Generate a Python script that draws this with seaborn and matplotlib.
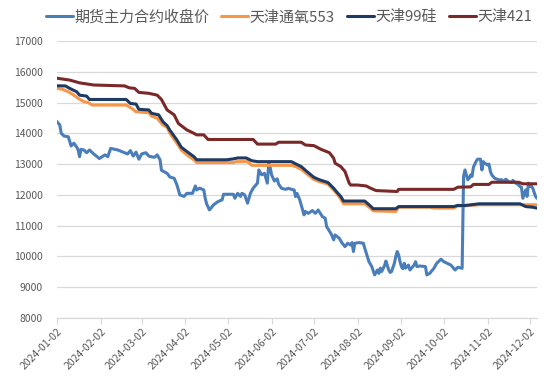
import pandas as pd
import matplotlib
matplotlib.use("Agg")
import matplotlib.pyplot as plt
import seaborn as sns

# ---- data ----
fut_dates = ["2024-01-02", "2024-01-04", "2024-01-05", "2024-01-07", "2024-01-10", "2024-01-12",
             "2024-01-14", "2024-01-16", "2024-01-17", "2024-01-18", "2024-01-19", "2024-01-21",
             "2024-01-23", "2024-01-25", "2024-01-28", "2024-02-01", "2024-02-03", "2024-02-05",
             "2024-02-07", "2024-02-09", "2024-02-14", "2024-02-21", "2024-02-23", "2024-02-25",
             "2024-02-27", "2024-02-29", "2024-03-02", "2024-03-05", "2024-03-07", "2024-03-11",
             "2024-03-13", "2024-03-15", "2024-03-16", "2024-03-18", "2024-03-20", "2024-03-22",
             "2024-03-25", "2024-03-27", "2024-03-29", "2024-04-01", "2024-04-03", "2024-04-07",
             "2024-04-09", "2024-04-10", "2024-04-12", "2024-04-15", "2024-04-16", "2024-04-17",
             "2024-04-19", "2024-04-22", "2024-04-25", "2024-04-28", "2024-04-29", "2024-05-06",
             "2024-05-07", "2024-05-09", "2024-05-11", "2024-05-12", "2024-05-14", "2024-05-16",
             "2024-05-18", "2024-05-20", "2024-05-23", "2024-05-24", "2024-05-26", "2024-05-28",
             "2024-05-30", "2024-05-31", "2024-06-01", "2024-06-02", "2024-06-04", "2024-06-06",
             "2024-06-07", "2024-06-09", "2024-06-12", "2024-06-14", "2024-06-16", "2024-06-18",
             "2024-06-19", "2024-06-20", "2024-06-22", "2024-06-25", "2024-06-26", "2024-06-28",
             "2024-07-01", "2024-07-03", "2024-07-05", "2024-07-08", "2024-07-10", "2024-07-11",
             "2024-07-14", "2024-07-16", "2024-07-17", "2024-07-20", "2024-07-22", "2024-07-24",
             "2024-07-26", "2024-07-28", "2024-07-29", "2024-07-30", "2024-07-31", "2024-08-03",
             "2024-08-06", "2024-08-07", "2024-08-10", "2024-08-12", "2024-08-14", "2024-08-16",
             "2024-08-17", "2024-08-18", "2024-08-19", "2024-08-21", "2024-08-22", "2024-08-24",
             "2024-08-25", "2024-08-26", "2024-08-28", "2024-08-29", "2024-08-30", "2024-08-31",
             "2024-09-01", "2024-09-02", "2024-09-03", "2024-09-04", "2024-09-05", "2024-09-07",
             "2024-09-08", "2024-09-11", "2024-09-12", "2024-09-13", "2024-09-15", "2024-09-19",
             "2024-09-20", "2024-09-22", "2024-09-25", "2024-09-27", "2024-09-30", "2024-10-02",
             "2024-10-07", "2024-10-09", "2024-10-10", "2024-10-12", "2024-10-15", "2024-10-16",
             "2024-10-17", "2024-10-18", "2024-10-19", "2024-10-20", "2024-10-21", "2024-10-22",
             "2024-10-23", "2024-10-24", "2024-10-25", "2024-10-26", "2024-10-28", "2024-10-29",
             "2024-10-30", "2024-10-31", "2024-11-02", "2024-11-03", "2024-11-04", "2024-11-05",
             "2024-11-07", "2024-11-10", "2024-11-12", "2024-11-13", "2024-11-15", "2024-11-17",
             "2024-11-19", "2024-11-20", "2024-11-22", "2024-11-23", "2024-11-24", "2024-11-25",
             "2024-11-26", "2024-11-27", "2024-11-29", "2024-11-30", "2024-12-01", "2024-12-02",
             "2024-12-03", "2024-12-04", "2024-12-06", "2024-12-07"]
fut_vals = [14380, 14270, 14000, 13910, 13890, 13590,
            13680, 13550, 13460, 13240, 13480, 13460,
            13370, 13460, 13330, 13180, 13240, 13300,
            13240, 13510, 13460, 13330, 13440, 13260,
            13390, 13160, 13330, 13370, 13260, 13220,
            13300, 13140, 12800, 12750, 12700, 12580,
            12540, 12320, 12000, 11950, 12050, 12050,
            12290, 12160, 12220, 12160, 11890, 11710,
            11510, 11680, 11780, 11840, 12020, 12020,
            11890, 12050, 11950, 12050, 12000, 11730,
            12050, 12220, 12380, 12810, 12650, 12700,
            12380, 13030, 12900, 12650, 12450, 12520,
            12350, 12215, 12180, 12215, 12180, 12160,
            11945, 12050, 11835, 11350, 11460, 11400,
            11490, 11400, 11510, 11295, 11240, 10970,
            10750, 10540, 10700, 10590, 10430, 10320,
            10430, 10370, 10450, 10160, 10430, 10450,
            10430, 10270, 9830, 9670, 9400, 9560,
            9450, 9620, 9510, 9700, 9850, 9560,
            9480, 9510, 9780, 10000, 10160, 10050,
            9830, 9670, 9600, 9780, 9620, 9720,
            9560, 9720, 9830, 9670, 9690, 9670,
            9400, 9450, 9615, 9780, 9910, 9830,
            9720, 9615, 9560, 9650, 9615, 12600,
            12810, 12650, 12490, 12540, 12650, 12600,
            12900, 13000, 13100, 13160, 13160, 12810,
            13080, 13030, 12970, 13000, 12760, 12650,
            12540, 12490, 12490, 12430, 12510, 12430,
            12400, 12470, 12380, 12360, 12320, 12270,
            12250, 11890, 12160, 11950, 12380, 12270,
            12290, 12220, 11950, 11890]

o553_dates = ["2024-01-02", "2024-01-06", "2024-01-10", "2024-01-14", "2024-01-17", "2024-01-21",
              "2024-01-24", "2024-01-27", "2024-02-20", "2024-02-24", "2024-02-27", "2024-03-07",
              "2024-03-09", "2024-03-13", "2024-03-17", "2024-03-20", "2024-03-22", "2024-03-27",
              "2024-03-30", "2024-04-03", "2024-04-08", "2024-04-10", "2024-05-06", "2024-05-08",
              "2024-05-16", "2024-05-19", "2024-06-16", "2024-06-19", "2024-06-23", "2024-06-27",
              "2024-07-02", "2024-07-06", "2024-07-12", "2024-07-16", "2024-07-19", "2024-07-21",
              "2024-07-23", "2024-08-07", "2024-08-11", "2024-08-13", "2024-08-29", "2024-08-31",
              "2024-09-22", "2024-09-25", "2024-10-09", "2024-10-12", "2024-10-16", "2024-10-27",
              "2024-12-07"]
o553_vals = [15460, 15430, 15350, 15240, 15135, 15030,
             15000, 14920, 14920, 14810, 14700, 14670,
             14560, 14490, 14270, 14200, 14000, 13675,
             13460, 13300, 13140, 13050, 13050, 13080,
             13080, 12960, 12960, 12920, 12830, 12680,
             12500, 12430, 12350, 12160, 12000, 11860,
             11710, 11710, 11570, 11480, 11460, 11600,
             11600, 11570, 11570, 11640, 11640, 11680,
             11680]

si99_dates = ["2024-01-02", "2024-01-08", "2024-01-11", "2024-01-16", "2024-01-18", "2024-01-23",
              "2024-01-25", "2024-02-20", "2024-02-23", "2024-02-27", "2024-02-29", "2024-03-07",
              "2024-03-09", "2024-03-14", "2024-03-17", "2024-03-20", "2024-03-22", "2024-03-27",
              "2024-03-30", "2024-04-03", "2024-04-08", "2024-04-10", "2024-05-01", "2024-05-06",
              "2024-05-09", "2024-05-15", "2024-05-19", "2024-05-23", "2024-06-16", "2024-06-19",
              "2024-06-23", "2024-06-27", "2024-07-02", "2024-07-06", "2024-07-12", "2024-07-16",
              "2024-07-19", "2024-07-21", "2024-07-23", "2024-08-07", "2024-08-11", "2024-08-13",
              "2024-08-29", "2024-08-31", "2024-10-09", "2024-10-12", "2024-10-16", "2024-10-27",
              "2024-11-25", "2024-11-29", "2024-12-04", "2024-12-07"]
si99_vals = [15545, 15540, 15460, 15350, 15240, 15210,
             15100, 15100, 14970, 14950, 14780, 14760,
             14650, 14600, 14380, 14250, 14100, 13780,
             13550, 13410, 13240, 13140, 13140, 13170,
             13200, 13200, 13110, 13080, 13080, 13010,
             12920, 12760, 12570, 12490, 12400, 12215,
             12050, 11950, 11800, 11800, 11640, 11550,
             11550, 11620, 11620, 11660, 11650, 11710,
             11710, 11620, 11600, 11570]

si421_dates = ["2024-01-02", "2024-01-11", "2024-01-18", "2024-01-28", "2024-02-19", "2024-02-22",
               "2024-02-26", "2024-02-29", "2024-03-07", "2024-03-13", "2024-03-16", "2024-03-20",
               "2024-03-25", "2024-03-28", "2024-04-03", "2024-04-08", "2024-04-10", "2024-04-15",
               "2024-04-18", "2024-05-20", "2024-05-23", "2024-06-05", "2024-06-07", "2024-06-23",
               "2024-06-26", "2024-07-02", "2024-07-07", "2024-07-13", "2024-07-16", "2024-07-17",
               "2024-07-21", "2024-07-24", "2024-07-27", "2024-07-28", "2024-08-02", "2024-08-08",
               "2024-08-11", "2024-08-15", "2024-08-30", "2024-08-31", "2024-10-09", "2024-10-12",
               "2024-10-21", "2024-10-23", "2024-11-03", "2024-11-05", "2024-11-24", "2024-11-27",
               "2024-12-07"]
si421_vals = [15790, 15730, 15640, 15570, 15540, 15480,
              15460, 15330, 15300, 15240, 15100, 14760,
              14600, 14320, 14110, 14000, 13950, 13950,
              13800, 13800, 13650, 13650, 13710, 13710,
              13620, 13600, 13480, 13370, 13190, 13030,
              12920, 12760, 12380, 12320, 12320, 12290,
              12220, 12140, 12110, 12180, 12180, 12250,
              12260, 12340, 12340, 12410, 12410, 12360,
              12360]

series = [
    ("期货主力合约收盘价", fut_dates, fut_vals, "#4A7EBB"),
    ("天津通氧553", o553_dates, o553_vals, "#F79646"),
    ("天津99硅", si99_dates, si99_vals, "#1F3B63"),
    ("天津421", si421_dates, si421_vals, "#7A2828"),
]

tick_labels = ["2024-01-02", "2024-02-02", "2024-03-02", "2024-04-02", "2024-05-02", "2024-06-02",
               "2024-07-02", "2024-08-02", "2024-09-02", "2024-10-02", "2024-11-02", "2024-12-02"]

# ---- style ----
sns.set_style("white")
plt.rcParams['font.family'] = ['Noto Sans CJK SC', 'DejaVu Sans']
grey = "#595959"

fig = plt.figure(figsize=(5.5, 3.83), dpi=100)
ax = fig.add_axes([0.1036, 0.1697, 0.8727, 0.7233])

for name, d, v, c in series:
    sns.lineplot(x=pd.to_datetime(d), y=v, ax=ax, color=c, linewidth=2.2,
                 label=name, legend=False)

ax.set_ylim(8000, 17000)
ax.set_yticks(range(8000, 17001, 1000))
ax.set_xlim(pd.Timestamp("2024-01-02"), pd.Timestamp("2024-12-07"))
ax.set_xticks(pd.to_datetime(tick_labels))
ax.set_xticklabels(tick_labels, rotation=45, ha="right", rotation_mode="anchor")
ax.grid(axis="y", color="#D9D9D9", linewidth=0.9)
ax.set_axisbelow(True)
ax.set_xlabel("")
ax.set_ylabel("")

for s in ["top", "right", "left"]:
    ax.spines[s].set_visible(False)
ax.spines["bottom"].set_color("#D9D9D9")
ax.spines["bottom"].set_linewidth(0.9)
ax.tick_params(axis="x", colors=grey, labelsize=7.5, length=4, width=0.9,
               color="#D9D9D9", direction="out", bottom=True, pad=2)
ax.tick_params(axis="y", colors=grey, labelsize=7.5, length=0, pad=10)

handles, labels = ax.get_legend_handles_labels()
fig.legend(handles, labels, loc="upper center", bbox_to_anchor=(0.525, 1.01), ncol=4,
           frameon=False, fontsize=10.8, handlelength=1.8, handletextpad=0.1,
           columnspacing=0.8, labelcolor=grey)

fig.savefig("out.png", dpi=100)
